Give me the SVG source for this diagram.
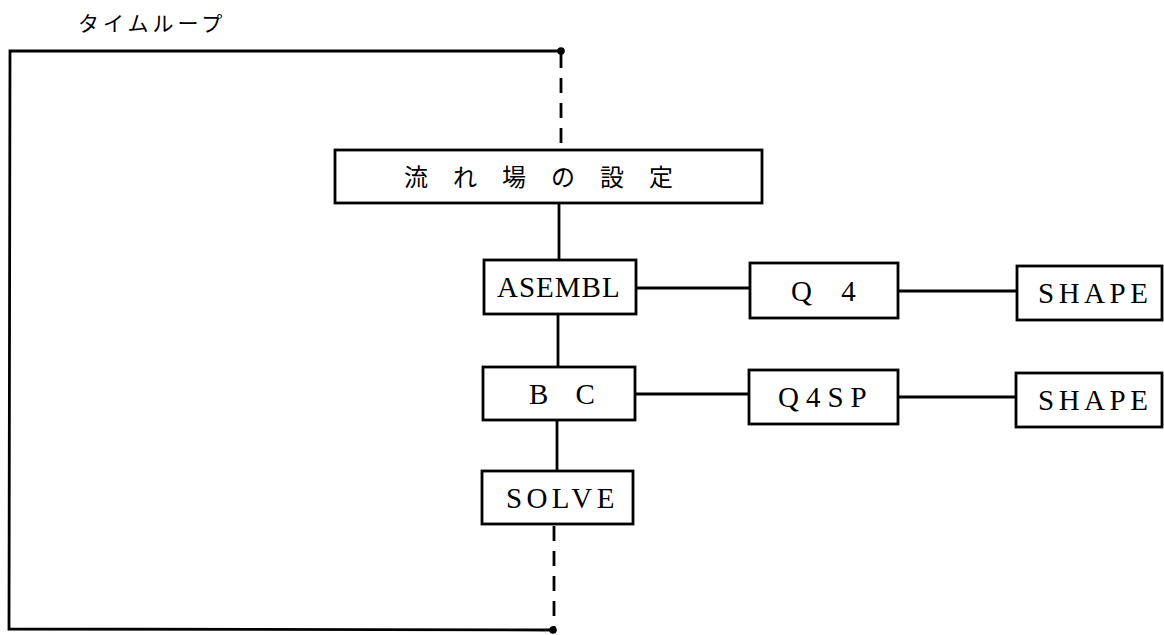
<svg xmlns="http://www.w3.org/2000/svg" width="1164" height="635" viewBox="0 0 1164 635">
<style>
.box{fill:#fff;stroke:#000;stroke-width:2.8}
.ln{fill:none;stroke:#000;stroke-width:2.8}
.dash{fill:none;stroke:#000;stroke-width:2.8;stroke-dasharray:15 10}
.lat{font-family:"Liberation Serif","DejaVu Serif",serif;font-size:29px;fill:#000}
.jp{font-family:"Noto Sans CJK JP",sans-serif;fill:#000}
</style>
<rect width="1164" height="635" fill="#fff"/>
<g id="connectors">
<polyline class="ln" points="561,51 10,51 9,629 553,630"/>
<line class="dash" x1="561" y1="53" x2="561" y2="150"/>
<line class="dash" x1="554" y1="526" x2="554" y2="630"/>
<circle cx="561" cy="51" r="3.8" fill="#000"/>
<circle cx="553" cy="630" r="3.8" fill="#000"/>
<line class="ln" x1="559" y1="203" x2="559" y2="260"/>
<line class="ln" x1="558" y1="314" x2="558" y2="367"/>
<line class="ln" x1="557" y1="420" x2="557" y2="471"/>
<line class="ln" x1="636" y1="288" x2="750" y2="288"/>
<line class="ln" x1="898" y1="291" x2="1017" y2="291"/>
<line class="ln" x1="635" y1="394" x2="748" y2="394"/>
<line class="ln" x1="898" y1="397" x2="1016" y2="397"/>
</g>
<text class="jp" x="78" y="31" font-size="21" letter-spacing="4">タイムループ</text>
<g id="nagareba">
<rect class="box" x="335" y="150" width="427" height="53"/>
<text class="jp" x="404" y="186" font-size="24" letter-spacing="25">流れ場の設定</text>
</g>
<g id="asembl">
<rect class="box" x="484" y="260" width="152" height="54"/>
<text class="lat" x="497" y="297" letter-spacing="1">ASEMBL</text>
</g>
<g id="bc">
<rect class="box" x="483" y="367" width="152" height="53"/>
<text class="lat" x="529" y="404" word-spacing="20" xml:space="preserve">B C</text>
</g>
<g id="solve">
<rect class="box" x="482" y="471" width="151" height="53"/>
<text class="lat" x="506" y="508" letter-spacing="4.4">SOLVE</text>
</g>
<g id="q4">
<rect class="box" x="750" y="263" width="148" height="55"/>
<text class="lat" x="791" y="301" word-spacing="22" xml:space="preserve">Q 4</text>
</g>
<g id="q4sp">
<rect class="box" x="749" y="370" width="149" height="54"/>
<text class="lat" x="778" y="407" letter-spacing="7">Q4SP</text>
</g>
<g id="shape1">
<rect class="box" x="1017" y="266" width="145" height="54"/>
<text class="lat" x="1038" y="303" letter-spacing="4.5">SHAPE</text>
</g>
<g id="shape2">
<rect class="box" x="1016" y="373" width="146" height="54"/>
<text class="lat" x="1038" y="410" letter-spacing="4.5">SHAPE</text>
</g>
</svg>
